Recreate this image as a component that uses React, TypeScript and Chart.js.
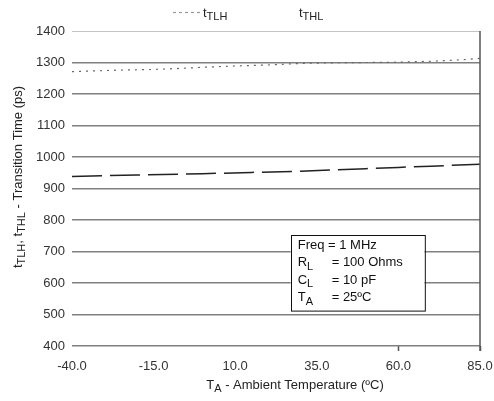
import React, { useEffect, useRef } from "react";
import { Chart, registerables } from "chart.js";

Chart.register(...registerables);

// Temperature axis (°C)
const xTickLabels = ["-40.0", "-15.0", "10.0", "35.0", "60.0", "85.0"];

// t_TLH series
const tlhTemps = [-40, -25, -15, -5, 0, 10, 20, 30, 40, 50, 60, 70, 80, 85];
const tlhValues = [1271, 1276, 1278, 1282, 1285, 1289, 1292, 1297, 1299, 1300, 1301, 1304, 1309, 1313];

// t_THL series
const thlTemps = [-40, -20, 0, 15, 30, 40, 50, 60, 70, 85];
const thlValues = [938, 943, 947, 951, 955, 959, 963, 967, 971, 977];

const FAM = "'Liberation Sans', Arial, sans-serif";

type Part = { t: string; sub?: boolean };

function drawRich(
  ctx: CanvasRenderingContext2D,
  parts: Part[],
  x: number,
  y: number,
  align: "left" | "center",
  size: number,
  subSize: number,
  subOff: number
) {
  ctx.textBaseline = "middle";
  ctx.textAlign = "left";
  let total = 0;
  const widths = parts.map((p) => {
    ctx.font = `${p.sub ? subSize : size}px ${FAM}`;
    const w = ctx.measureText(p.t).width;
    total += w;
    return w;
  });
  let cx = align === "center" ? x - total / 2 : x;
  parts.forEach((p, i) => {
    ctx.font = `${p.sub ? subSize : size}px ${FAM}`;
    ctx.fillText(p.t, cx, y + (p.sub ? subOff : 0));
    cx += widths[i];
  });
}

const decorPlugin = {
  id: "decor",
  afterDatasetsDraw(chart: any) {
    const ctx: CanvasRenderingContext2D = chart.ctx;
    const { right, top, bottom } = chart.chartArea;
    const xs = chart.scales.x;
    const ys = chart.scales.y;
    ctx.save();

    // right frame line
    ctx.strokeStyle = "#555";
    ctx.lineWidth = 1.5;
    ctx.beginPath();
    ctx.moveTo(right, top);
    ctx.lineTo(right, bottom + 5);
    ctx.stroke();

    // annotation box
    const bx1 = xs.getPixelForValue(27);
    const bx2 = xs.getPixelForValue(68);
    const by1 = ys.getPixelForValue(752);
    const by2 = ys.getPixelForValue(512);
    ctx.fillStyle = "#fff";
    ctx.fillRect(bx1, by1, bx2 - bx1, by2 - by1);
    ctx.strokeStyle = "#111";
    ctx.lineWidth = 1;
    ctx.strokeRect(Math.round(bx1) + 0.5, Math.round(by1) + 0.5, bx2 - bx1, by2 - by1);
    ctx.fillStyle = "#111";
    const tx = bx1 + 7;
    const eqx = bx1 + 41;
    const ly = by1 + 10;
    const lh = 17.5;
    drawRich(ctx, [{ t: "Freq = 1 MHz" }], tx, ly, "left", 13, 11, 4);
    drawRich(ctx, [{ t: "R" }, { t: "L", sub: true }], tx, ly + lh, "left", 13, 11, 4);
    drawRich(ctx, [{ t: "= 100 Ohms" }], eqx, ly + lh, "left", 13, 11, 4);
    drawRich(ctx, [{ t: "C" }, { t: "L", sub: true }], tx, ly + 2 * lh, "left", 13, 11, 4);
    drawRich(ctx, [{ t: "= 10 pF" }], eqx, ly + 2 * lh, "left", 13, 11, 4);
    drawRich(ctx, [{ t: "T" }, { t: "A", sub: true }], tx, ly + 3 * lh, "left", 13, 11, 4);
    drawRich(ctx, [{ t: "= 25ºC" }], eqx, ly + 3 * lh, "left", 13, 11, 4);

    // legend
    ctx.strokeStyle = "#999";
    ctx.lineWidth = 1.2;
    ctx.setLineDash([3, 3]);
    ctx.beginPath();
    ctx.moveTo(173, 12.5);
    ctx.lineTo(202, 12.5);
    ctx.stroke();
    ctx.setLineDash([]);
    ctx.fillStyle = "#222";
    drawRich(ctx, [{ t: "t" }, { t: "TLH", sub: true }], 203, 13, "left", 13, 11, 4);
    drawRich(ctx, [{ t: "t" }, { t: "THL", sub: true }], 299, 13, "left", 13, 11, 4);

    // x title
    drawRich(
      ctx,
      [{ t: "T" }, { t: "A", sub: true }, { t: " - Ambient Temperature (ºC)" }],
      295,
      385,
      "center",
      13,
      11,
      4
    );

    // y title
    ctx.translate(18, 177);
    ctx.rotate(-Math.PI / 2);
    drawRich(
      ctx,
      [
        { t: "t" },
        { t: "TLH", sub: true },
        { t: ", t" },
        { t: "THL", sub: true },
        { t: " - Transition Time (ps)" },
      ],
      0,
      0,
      "center",
      13,
      11,
      4
    );
    ctx.restore();
  },
};

export default function App() {
  const ref = useRef<HTMLCanvasElement>(null);
  useEffect(() => {
    if (!ref.current) return;
    const chart = new Chart(ref.current, {
      type: "line",
      data: {
        datasets: [
          {
            label: "tTLH",
            data: tlhTemps.map((t, i) => ({ x: t, y: tlhValues[i] })),
            borderColor: "#666",
            borderWidth: 1.2,
            borderDash: [2, 5],
            pointRadius: 0,
            fill: false,
          },
          {
            label: "tTHL",
            data: thlTemps.map((t, i) => ({ x: t, y: thlValues[i] })),
            borderColor: "#222",
            borderWidth: 1.5,
            borderDash: [30, 8],
            pointRadius: 0,
            fill: false,
          },
        ],
      },
      options: {
        responsive: false,
        animation: false,
        layout: { padding: { top: 31, right: 14, left: 0, bottom: 0 } },
        plugins: {
          legend: { display: false },
          title: { display: false },
          tooltip: { enabled: false },
        },
        scales: {
          x: {
            type: "linear",
            min: -40,
            max: 85,
            afterFit: (s: any) => {
              s.height = 55;
              s.paddingLeft = 0;
              s.paddingRight = 0;
            },
            afterBuildTicks: (s: any) => {
              s.ticks = xTickLabels.map((l) => ({ value: parseFloat(l) }));
            },
            ticks: {
              callback: (v: any) => Number(v).toFixed(1),
              color: "#333",
              font: { family: FAM, size: 13 },
              padding: 8,
              maxRotation: 0,
              autoSkip: false,
            },
            grid: {
              display: true,
              drawOnChartArea: false,
              drawTicks: true,
              tickLength: 5,
              tickColor: (c: any) => (c.tick && c.tick.value >= 60 ? "#555" : "rgba(0,0,0,0)"),
              tickWidth: 1.5,
            },
            border: { display: false },
          },
          y: {
            min: 400,
            max: 1400,
            afterFit: (s: any) => {
              s.width = 72;
              s.paddingTop = 0;
              s.paddingBottom = 0;
            },
            ticks: {
              stepSize: 100,
              callback: (v: any) => String(v),
              color: "#333",
              font: { family: FAM, size: 13 },
              padding: 7,
            },
            grid: {
              drawTicks: false,
              color: (c: any) => (c.tick && c.tick.value === 1400 ? "#c4c4c4" : "#808080"),
              lineWidth: (c: any) => (c.tick && c.tick.value === 1400 ? 1 : 1.5),
            },
            border: { display: false },
          },
        },
      },
      plugins: [decorPlugin],
    });
    return () => chart.destroy();
  }, []);
  return (
    <div style={{ position: "absolute", left: 0, top: 0, width: 494, height: 401, background: "#fff" }}>
      <canvas ref={ref} width={494} height={401} />
    </div>
  );
}
